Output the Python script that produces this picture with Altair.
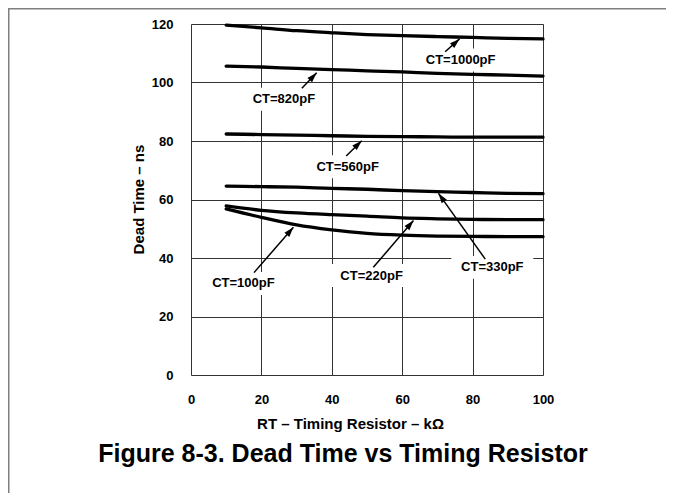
import math
import altair as alt
import pandas as pd

# ---- data ----
rt = [10, 20, 30, 40, 50, 60, 70, 80, 90, 100]
ct_1000 = [119.6, 118.7, 117.7, 117.0, 116.4, 116.0, 115.7, 115.4, 115.1, 114.9]
ct_820 = [105.6, 105.3, 104.8, 104.4, 104.0, 103.6, 103.1, 102.8, 102.5, 102.2]
ct_560 = [82.4, 82.2, 82.0, 81.8, 81.6, 81.5, 81.4, 81.3, 81.3, 81.3]
ct_330 = [64.6, 64.4, 64.2, 63.8, 63.5, 63.0, 62.7, 62.4, 62.1, 62.0]
ct_220 = [57.8, 56.3, 55.4, 54.8, 54.3, 53.7, 53.4, 53.2, 53.1, 53.1]
ct_100 = [56.8, 53.9, 51.3, 49.6, 48.4, 47.8, 47.5, 47.4, 47.3, 47.3]

series_names = ["CT=1000pF", "CT=820pF", "CT=560pF", "CT=330pF", "CT=220pF", "CT=100pF"]
series_vals = [ct_1000, ct_820, ct_560, ct_330, ct_220, ct_100]

label_x = [76.6, 26.4, 44.5, 85.6, 51.3, 14.9]
label_y = [107.7, 94.3, 71.2, 36.8, 34.0, 31.3]
tail_x = [72.2, 31.5, 44.1, 83.6, 51.8, 17.9]
tail_y = [110.5, 98.0, 74.9, 39.6, 36.8, 35.0]
head_x = [76.3, 35.7, 48.5, 70.3, 63.2, 29.1]
head_y = [114.9, 103.3, 80.1, 62.1, 52.8, 50.5]

x_ticks = [0, 10, 20, 30, 40, 50, 60, 70, 80, 90, 100]
y_ticks = [0, 20, 40, 60, 80, 100, 120]

figure_title = ["Figure 8-3. Dead Time vs Timing Resistor"]

# ---- layout ----
W, H = 352, 351
PAD = {"left": 183, "top": 16, "right": 123, "bottom": 118}
FONT = "Liberation Sans"

rows = []
for name, vals in zip(series_names, series_vals):
    for x, y in zip(rt, vals):
        rows.append({"series": name, "rt": x, "dt": y})
curves = pd.DataFrame(rows)

sx = W / 100.0
sy = H / 120.0
angles = []
for tx, ty, hx, hy in zip(tail_x, tail_y, head_x, head_y):
    dx = (hx - tx) * sx
    dy = -(hy - ty) * sy
    angles.append(math.degrees(math.atan2(dx, -dy)) % 360)

ann = pd.DataFrame({
    "label": series_names,
    "lx": label_x, "ly": label_y,
    "tx": tail_x, "ty": tail_y,
    "hx": head_x, "hy": head_y,
    "angle": angles,
})
title_df = pd.DataFrame({"t": figure_title})

xs = alt.Scale(domain=[0, 100], nice=False)
ys = alt.Scale(domain=[0, 120], nice=False)

x_axis = alt.Axis(
    values=x_ticks, grid=True, ticks=False, tickSize=0, domain=False,
    labelExpr="datum.value % 20 == 0 ? datum.label : ''",
    labelFont=FONT, labelFontSize=13, labelFontWeight="bold", labelColor="black",
    labelPadding=18, labelFlush=False,
    title="RT – Timing Resistor – kΩ", titleFont=FONT, titleFontSize=15,
    titleFontWeight="bold", titleColor="black", titleX=159, titleY=48,
    titleBaseline="middle", titleAlign="center",
    gridColor="#333333", gridWidth=1, gridOpacity=1,
)
y_axis = alt.Axis(
    values=y_ticks, grid=True, ticks=False, tickSize=0, domain=False,
    labelFont=FONT, labelFontSize=13, labelFontWeight="bold", labelColor="black",
    labelPadding=18, labelFlush=False,
    title="Dead Time – ns", titleFont=FONT, titleFontSize=15,
    titleFontWeight="bold", titleColor="black", titleX=-53, titleY=175,
    titleAngle=270, titleBaseline="middle", titleAlign="center",
    gridColor="#333333", gridWidth=1, gridOpacity=1,
)

lines = alt.Chart(curves).mark_line(
    color="black", strokeWidth=3.3, interpolate="monotone", strokeCap="round"
).encode(
    x=alt.X("rt:Q", scale=xs, axis=x_axis),
    y=alt.Y("dt:Q", scale=ys, axis=y_axis),
    detail="series:N",
)

boxes = alt.Chart(ann).mark_point(
    shape="M-1,-0.28L1,-0.28L1,0.28L-1,0.28Z", filled=True, fill="white",
    opacity=1, strokeWidth=0, size=6724
).encode(
    x=alt.X("lx:Q", scale=xs), y=alt.Y("ly:Q", scale=ys)
)

shafts = alt.Chart(ann).mark_rule(color="black", strokeWidth=1.5).encode(
    x=alt.X("tx:Q", scale=xs), y=alt.Y("ty:Q", scale=ys),
    x2="hx:Q", y2="hy:Q",
)

heads = alt.Chart(ann).mark_point(
    shape="M0,0L0.32,1L-0.32,1Z", filled=True, fill="black", opacity=1,
    strokeWidth=0, size=400
).encode(
    x=alt.X("hx:Q", scale=xs), y=alt.Y("hy:Q", scale=ys),
    angle=alt.Angle("angle:Q", scale=None),
)

texts = alt.Chart(ann).mark_text(
    font=FONT, fontSize=13, fontWeight="bold", color="black",
    align="center", baseline="middle"
).encode(
    x=alt.X("lx:Q", scale=xs), y=alt.Y("ly:Q", scale=ys), text="label:N"
)

fig_title = alt.Chart(title_df).mark_text(
    font=FONT, fontSize=25, fontWeight="bold", color="black",
    align="center", baseline="alphabetic"
).encode(
    x=alt.value(152), y=alt.value(438), text="t:N"
)

top_rule = alt.Chart(title_df).mark_rule(color="#7f7f7f", strokeWidth=2).encode(
    x=alt.value(-PAD["left"]), x2=alt.value(W + PAD["right"]),
    y=alt.value(-PAD["top"] + 0.5),
)
left_rule = alt.Chart(title_df).mark_rule(color="#7f7f7f", strokeWidth=2).encode(
    x=alt.value(-PAD["left"] + 0.5),
    y=alt.value(-PAD["top"]), y2=alt.value(H + PAD["bottom"]),
)

chart = alt.layer(
    boxes, lines, shafts, heads, texts, fig_title, top_rule, left_rule
).properties(
    width=W, height=H,
    autosize=alt.AutoSizeParams(type="none"),
    padding=PAD,
).configure_view(
    stroke="black", strokeWidth=1.5
).configure(background="white")

chart.save("out.html", embed_options={"renderer": "svg", "actions": False})
